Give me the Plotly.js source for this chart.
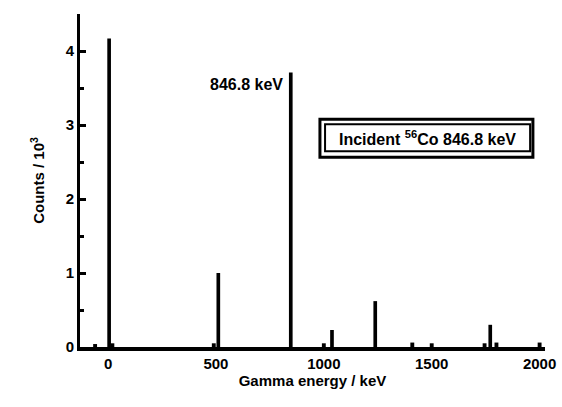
<!DOCTYPE html>
<html>
<head>
<meta charset="utf-8">
<script src="https://cdn.plot.ly/plotly-3.0.1.min.js"></script>
<style>html,body{margin:0;padding:0;background:#fff;}#chart{width:562px;height:407px;}</style>
</head>
<body>
<div id="chart"></div>
<script>
// Gamma peaks (energy in keV, counts in units of 10^3)
const peakEnergy = [5, 511, 846.8, 1037.8, 1238.3, 1771.3];
const peakCounts = [4.17, 1.0, 3.71, 0.23, 0.62, 0.30];
// small background bumps
const bumpEnergy = [-60, 20, 490, 1000, 1410, 1500, 1745, 1800, 2000];
const bumpCounts = [0.04, 0.05, 0.05, 0.05, 0.06, 0.05, 0.05, 0.06, 0.06];
const xTickVals = [0, 500, 1000, 1500, 2000];
const xTickText = ['0', '500', '1000', '1500', '2000'];
const yTickVals = [0, 1, 2, 3, 4];
const yTickText = ['0', '1', '2', '3', '4'];
const peakLabel = '846.8 keV';
const boxLabel = 'Incident <sup>56</sup>Co 846.8 keV';

const font = {family: 'Liberation Sans, Arial, sans-serif', size: 15, color: '#000', weight: 'bold'};
const bigFont = {family: 'Liberation Sans, Arial, sans-serif', size: 16, color: '#000', weight: 'bold'};

const traces = [
  {type: 'bar', x: peakEnergy, y: peakCounts, width: 17,
   marker: {color: '#000', line: {width: 0}}, hoverinfo: 'skip'},
  {type: 'bar', x: bumpEnergy, y: bumpCounts, width: 18,
   marker: {color: '#000', line: {width: 0}}, hoverinfo: 'skip'}
];

const layout = {
  width: 562, height: 407,
  margin: {l: 80, r: 17, t: 14, b: 60},
  paper_bgcolor: '#fff', plot_bgcolor: '#fff',
  showlegend: false,
  barmode: 'overlay',
  font: font,
  xaxis: {
    range: [-130, 2025], showgrid: false, zeroline: false,
    showline: true, linecolor: '#000', linewidth: 4,
    tickvals: xTickVals, ticktext: xTickText, ticks: '',
    tickfont: font,
    title: {text: 'Gamma energy / keV', font: font, standoff: 4}
  },
  yaxis: {
    range: [0, 4.5], showgrid: false, zeroline: false,
    showline: true, linecolor: '#000', linewidth: 3,
    tickvals: yTickVals, ticktext: yTickText,
    ticks: 'inside', ticklen: 6, tickwidth: 3, tickcolor: '#000',
    minor: {dtick: 0.5, ticks: 'inside', ticklen: 4, tickwidth: 3, tickcolor: '#000'},
    tickfont: font,
    title: {text: 'Counts / 10<sup>3</sup>', font: font, standoff: 18}
  },
  annotations: [
    {xref: 'x', yref: 'y', x: 846.8, y: 3.55, text: peakLabel, showarrow: false,
     xanchor: 'right', yanchor: 'middle', xshift: -6, font: bigFont},
    {xref: 'paper', yref: 'paper', x: 0.7475, y: 0.6285, text: boxLabel, showarrow: false,
     xanchor: 'center', yanchor: 'middle', font: bigFont}
  ],
  shapes: [
    {type: 'rect', xref: 'paper', yref: 'paper', x0: 0.516, x1: 0.974, y0: 0.570, y1: 0.684,
     line: {color: '#000', width: 3}},
    {type: 'rect', xref: 'paper', yref: 'paper', x0: 0.527, x1: 0.968, y0: 0.588, y1: 0.669,
     line: {color: '#000', width: 2}}
  ]
};

Plotly.newPlot('chart', traces, layout, {displayModeBar: false, staticPlot: true});
</script>
</body>
</html>
